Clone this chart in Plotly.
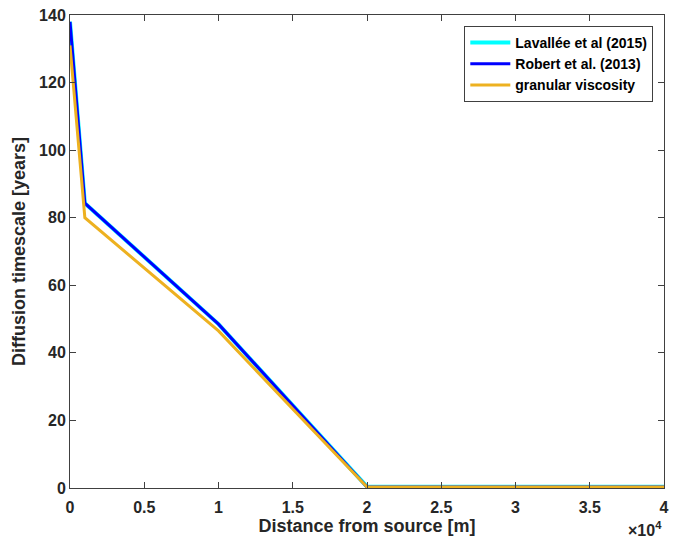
import plotly.graph_objects as go

distance = [0, 1000, 10000, 20000, 40000]
lavallee = [138.0, 84.3, 48.5, 0.4, 0.4]
robert = [138.0, 84.3, 48.5, 0.3, 0.3]
granular = [131.0, 80.0, 46.5, 0.3, 0.3]

xtick_vals = [0, 5000, 10000, 15000, 20000, 25000, 30000, 35000, 40000]
xtick_text = ["0", "0.5", "1", "1.5", "2", "2.5", "3", "3.5", "4"]
ytick_vals = [0, 20, 40, 60, 80, 100, 120, 140]

font_family = "Liberation Sans, Arial, sans-serif"

fig = go.Figure()
fig.add_trace(go.Scatter(x=distance, y=lavallee, mode="lines", name="Lavallée et al (2015)",
                         line=dict(color="#00FFFF", width=4)))
fig.add_trace(go.Scatter(x=distance, y=robert, mode="lines", name="Robert et al. (2013)",
                         line=dict(color="#0000FF", width=3)))
fig.add_trace(go.Scatter(x=distance, y=granular, mode="lines", name="granular viscosity",
                         line=dict(color="#EDB120", width=3)))

axis_common = dict(showline=True, linecolor="#404040", linewidth=1, mirror="ticks",
                   ticks="inside", ticklen=6, tickcolor="#404040", showgrid=False, zeroline=False,
                   tickfont=dict(family=font_family, size=16, color="#262626", weight="bold"))

fig.update_layout(
    width=675, height=546,
    margin=dict(l=70, r=6, t=15, b=58),
    paper_bgcolor="white", plot_bgcolor="white",
    font=dict(family=font_family, color="#262626"),
    xaxis=dict(range=[0, 40000], tickvals=xtick_vals, ticktext=xtick_text, ticklabelstandoff=5,
               title=dict(text="Distance from source [m]", standoff=4,
                          font=dict(family=font_family, size=18, weight="bold", color="#262626")),
               **axis_common),
    yaxis=dict(range=[0, 140], tickvals=ytick_vals,
               title=dict(text="Diffusion timescale [years]", standoff=8,
                          font=dict(family=font_family, size=18, weight="bold", color="#262626")),
               **axis_common),
    legend=dict(x=0.982, y=0.977, xanchor="right", yanchor="top",
                bgcolor="white", bordercolor="#404040", borderwidth=1,
                font=dict(family=font_family, size=14, weight="bold", color="#000000"),
                tracegroupgap=0, itemwidth=40),
    showlegend=True,
)

fig.add_annotation(xref="paper", yref="paper", x=1.0, y=-0.087, xanchor="right", yanchor="middle",
                   text="×10<sup>4</sup>", showarrow=False,
                   font=dict(family=font_family, size=16, weight="bold", color="#262626"))

fig.write_html("out.html")
